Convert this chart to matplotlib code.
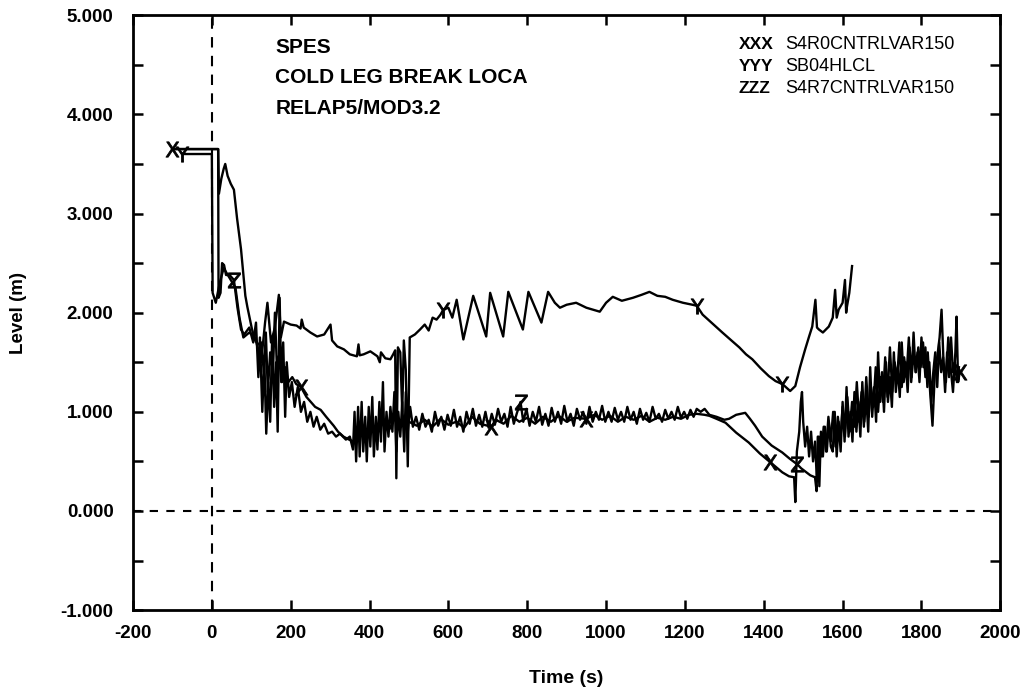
import numpy as np
import matplotlib
matplotlib.use('Agg')
import matplotlib.pyplot as plt
from matplotlib.ticker import MultipleLocator

plt.rcParams['font.family'] = ['Liberation Sans', 'DejaVu Sans']
plt.rcParams['axes.unicode_minus'] = False

# S4R0CNTRLVAR150 (XXX)
x_time = [-100, 16, 18, 24, 30, 34, 40, 48, 56, 64, 74, 85, 90, 102, 110, 118,
          125, 132, 137, 142, 148, 155, 160, 165, 172, 178, 186, 194, 204, 214, 226,
          240, 251, 262, 276, 290, 309, 320, 334, 348, 360, 375, 390, 405, 420, 435,
          450, 465, 480, 500, 520, 540, 560, 580, 600, 620, 640, 660, 680, 700, 709,
          720, 740, 760, 780, 800, 820, 840, 860, 880, 900, 920, 949, 970, 990, 1010,
          1030, 1050, 1070, 1090, 1110, 1130, 1150, 1170, 1190, 1210, 1230, 1250, 1262,
          1280, 1303, 1330, 1362, 1390, 1417, 1447, 1464, 1477, 1480, 1484, 1490, 1494,
          1497, 1500, 1505, 1510, 1515, 1520, 1525, 1530, 1535, 1540, 1546, 1552, 1558,
          1564, 1570, 1576, 1582, 1588, 1594, 1600, 1606, 1612, 1618, 1624, 1630, 1636,
          1642, 1648, 1654, 1660, 1666, 1672, 1678, 1684, 1690, 1696, 1702, 1708, 1714,
          1720, 1726, 1732, 1738, 1744, 1750, 1756, 1762, 1768, 1774, 1780, 1786, 1792,
          1798, 1804, 1810, 1816, 1822, 1828, 1834, 1840, 1846, 1851, 1856, 1862, 1868,
          1874, 1880, 1886, 1889, 1893, 1897]
x_level = [3.65, 3.65, 3.20, 3.35, 3.45, 3.50, 3.38, 3.30, 3.24, 2.95, 2.64, 2.17, 2.06, 1.83, 1.72, 1.68,
           1.70, 1.40, 1.80, 1.20, 1.60, 1.40, 2.00, 1.45, 1.60, 1.30, 1.45, 1.30, 1.35, 1.28, 1.25,
           1.15, 1.10, 1.05, 1.02, 0.95, 0.86, 0.80, 0.75, 0.72, 0.70, 0.78, 0.75, 0.85, 0.78, 0.90,
           0.82, 0.95, 0.85, 0.90, 0.86, 0.92, 0.85, 0.93, 0.87, 0.90, 0.84, 0.95, 0.88, 0.86, 0.85,
           0.92, 0.88, 0.96, 0.90, 0.94, 0.88, 0.95, 0.90, 0.96, 0.90, 0.94, 0.93, 0.97, 0.92, 0.96,
           0.90, 0.95, 0.92, 0.96, 0.90, 0.94, 0.92, 0.95, 0.93, 0.97, 0.98, 0.97, 0.96,
           0.93, 0.89, 0.79, 0.69, 0.58, 0.49, 0.39, 0.35, 0.34, 0.09, 0.60, 0.80, 1.10,
           1.20, 0.90, 0.65, 0.85, 0.55, 0.80, 0.50, 0.70, 0.30, 0.75, 0.55, 0.85, 0.60,
           0.95, 0.70, 1.00, 0.65, 0.95, 0.70, 1.05, 0.75, 1.15, 0.80, 1.10, 0.85, 1.30,
           0.90, 1.20, 0.85, 1.35, 0.95, 1.25, 1.05, 1.45, 1.00, 1.35, 1.10, 1.55, 1.15,
           1.65, 1.20, 1.50, 1.30, 1.70, 1.25, 1.55, 1.35, 1.75, 1.30, 1.60, 1.40, 1.65,
           1.45, 1.70, 1.35, 1.60, 1.20, 0.86, 1.40, 1.55, 1.75, 2.03, 1.50, 1.30, 1.75,
           1.45, 1.20, 1.60, 1.96, 1.30, 1.40]
x_marks = [-100, 226, 709, 949, 1417, 1897]

# SB04HLCL (YYY)
y_time = [-75, 0, 2, 10, 20, 30, 45, 60, 70, 80, 95, 110, 125, 135, 141, 150, 160, 170,
          175, 183, 200, 215, 225, 228, 233, 250, 267, 285, 301, 305, 318, 335, 350, 368,
          372, 375, 385, 402, 420, 426, 429, 440, 453, 460, 465, 468, 472, 478, 483, 487,
          492, 497, 502, 515, 528, 540, 550, 560, 570, 580, 587, 600, 610, 621, 638, 663,
          696, 706, 739, 752, 789, 803, 836, 853, 870, 883, 900, 924, 950, 984, 1000, 1017,
          1040, 1068, 1090, 1110, 1130, 1150, 1169, 1195, 1219, 1230, 1245, 1270, 1295, 1315,
          1338, 1355, 1371, 1392, 1413, 1430, 1447, 1453, 1467, 1480, 1492, 1505, 1515, 1523,
          1531, 1535, 1540, 1550, 1565, 1575, 1581, 1585, 1590, 1600, 1606, 1609, 1611, 1617,
          1624]
y_level = [3.60, 3.60, 2.20, 2.10, 2.30, 2.45, 2.35, 2.25, 1.95, 1.75, 1.80, 1.75, 1.50, 1.90, 2.10, 1.70, 1.85, 2.18,
           1.75, 1.91, 1.88, 1.87, 1.84, 1.93, 1.85, 1.80, 1.76, 1.78, 1.88, 1.72, 1.66, 1.63, 1.58, 1.56,
           1.68, 1.57, 1.58, 1.61, 1.56, 1.50, 1.60, 1.54, 1.53, 1.58, 1.62, 0.33, 1.65, 1.60, 1.00, 1.72,
           1.42, 0.45, 1.75, 1.78, 1.83, 1.88, 1.82, 1.95, 1.93, 1.98, 2.03, 2.05, 1.95, 2.13, 1.73, 2.17,
           1.76, 2.20, 1.76, 2.21, 1.83, 2.21, 1.90, 2.21, 2.10, 2.05, 2.08, 2.10, 2.05, 2.01, 2.10, 2.16,
           2.12, 2.15, 2.18, 2.21, 2.17, 2.16, 2.13, 2.10, 2.08, 2.07, 1.98, 1.89, 1.80, 1.73,
           1.65, 1.58, 1.53, 1.44, 1.36, 1.31, 1.28, 1.26, 1.21, 1.26, 1.45, 1.63, 1.76, 1.86,
           2.13, 1.85, 1.83, 1.80, 1.86, 1.95, 2.23, 1.95, 2.03, 2.10, 2.33, 2.00, 2.06, 2.20,
           2.47]
y_marks = [-75, 587, 1230, 1447]

# S4R7CNTRLVAR150 (ZZZ)
z_time = [-100, 16, 17, 22, 26, 31, 36, 45, 56, 65, 74, 82, 95, 105, 112, 118, 122, 128, 133,
          138, 143, 148, 153, 158, 163, 167, 172, 176, 181, 186, 190, 196, 203, 210, 218, 226,
          234, 242, 250, 258, 266, 275, 285, 295, 305, 315, 325, 340, 350, 358, 362, 366, 371,
          375, 380, 384, 389, 393, 398, 402, 407, 411, 416, 420, 425, 429, 434, 438, 443, 448,
          453, 458, 463, 468, 473, 478, 483, 488, 492, 497, 503, 510, 518, 526, 534, 542, 550,
          558, 566, 574, 582, 590, 598, 606, 614, 622, 630, 638, 646, 654, 662, 670, 678, 686,
          694, 702, 710, 718, 726, 734, 742, 750, 758, 766, 774, 783, 790, 798, 806, 814, 822,
          830, 838, 846, 854, 862, 870, 878, 886, 894, 902, 910, 918, 926, 934, 942, 950, 958,
          966, 974, 982, 990, 998, 1006, 1014, 1022, 1030, 1038, 1046, 1054, 1062, 1070, 1078,
          1086, 1094, 1102, 1110, 1118, 1126, 1134, 1142, 1150, 1158, 1166, 1174, 1182, 1190,
          1198, 1206, 1214, 1222, 1230, 1240, 1250, 1262, 1280, 1300, 1312, 1330, 1353, 1365,
          1378, 1396, 1420, 1447, 1465, 1485, 1495, 1505, 1518, 1530, 1534, 1537, 1541, 1545,
          1550, 1555, 1560, 1565, 1570, 1575, 1580, 1585, 1590, 1595, 1600, 1605, 1610, 1615,
          1620, 1625, 1630, 1635, 1640, 1645, 1650, 1655, 1660, 1665, 1670, 1675, 1680, 1685,
          1690, 1695, 1700, 1705, 1710, 1715, 1720, 1725, 1730, 1735, 1740, 1745, 1750, 1755,
          1760, 1765, 1770, 1775, 1780, 1785, 1790, 1795, 1800, 1805, 1810, 1815, 1820, 1825,
          1830, 1835, 1840, 1845, 1850, 1855, 1860, 1865, 1870, 1875, 1880, 1885, 1890, 1895]
z_level = [3.65, 3.65, 2.15, 2.20, 2.50, 2.48, 2.38, 2.38, 2.33, 2.05, 1.83, 1.78, 1.85, 1.70, 1.90, 1.35, 1.75, 1.00, 1.55,
           0.78, 1.30, 0.90, 1.75, 1.05, 1.50, 0.80, 2.15, 1.30, 1.70, 0.95, 1.50, 1.15, 1.30, 1.05, 1.25, 1.00,
           1.10, 0.90, 1.00, 0.85, 0.95, 0.82, 0.88, 0.78, 0.80, 0.75, 0.78, 0.72, 0.75, 0.62, 1.00, 0.50, 1.05,
           0.55, 1.10, 0.60, 0.95, 0.50, 1.05, 0.65, 1.15, 0.55, 0.95, 0.62, 1.10, 0.70, 1.30, 0.60, 1.00, 0.75,
           1.05, 0.80, 1.20, 0.60, 1.00, 0.75, 1.10, 0.60, 1.20, 0.80, 1.05, 0.85, 0.95, 0.82, 0.98, 0.85, 0.92,
           0.80, 1.00, 0.86, 0.95, 0.82, 0.97, 0.86, 1.02, 0.85, 0.95, 0.80, 1.00, 0.88, 1.03, 0.86, 0.97, 0.85,
           1.00, 0.84, 0.98, 0.87, 1.03, 0.90, 0.98, 0.85, 1.05, 0.88, 0.99, 1.10, 0.90, 1.03, 0.86, 1.00, 0.90,
           1.05, 0.87, 0.98, 0.86, 1.04, 0.90, 1.00, 0.88, 1.06, 0.90, 0.98, 0.86, 1.03, 0.92, 1.00, 0.88, 1.05,
           0.90, 1.00, 0.92, 1.06, 0.90, 1.00, 0.90, 1.04, 0.92, 1.00, 0.90, 1.05, 0.92, 1.00, 0.88,
           1.03, 0.92, 0.99, 0.90, 1.05, 0.93, 0.98, 0.90, 1.02, 0.93, 1.00, 0.92, 1.05, 0.94,
           1.00, 0.93, 1.02, 0.95, 1.03, 1.00, 1.03, 0.97, 0.95, 0.92, 0.93, 0.97, 0.99, 0.93,
           0.86, 0.75, 0.66, 0.59, 0.53, 0.47, 0.43, 0.40, 0.36, 0.34, 0.20, 0.75, 0.25, 0.80,
           0.55, 0.85, 0.60, 0.90, 0.65, 0.60, 1.00, 0.55, 0.90, 0.60, 1.10, 0.70, 1.25, 0.75,
           1.00, 0.70, 1.20, 0.80, 1.10, 0.75, 1.30, 0.90, 1.15, 0.80, 1.45, 0.95, 1.25, 0.90,
           1.60, 1.10, 1.40, 1.00, 1.50, 1.10, 1.35, 1.05, 1.60, 1.20, 1.45, 1.15, 1.70, 1.30,
           1.50, 1.20, 1.65, 1.35, 1.80, 1.40, 1.60, 1.30, 1.75, 1.45, 1.65, 1.25, 1.50, 1.10,
           1.40, 1.60, 1.25, 1.70, 1.40, 1.55, 1.20, 1.60, 1.35, 1.75, 1.40, 1.50, 1.30, 1.45]
z_marks = [56, 783, 1485]

fig = plt.figure(figsize=(10.27, 6.91), dpi=100)
ax = fig.add_axes([0.1295, 0.117, 0.8445, 0.861])

series = [
    (x_time, x_level, x_marks, r'$\mathrm{X}$'),
    (y_time, y_level, y_marks, r'$\mathrm{Y}$'),
    (z_time, z_level, z_marks, r'$\mathrm{Z}$'),
]
for t, lev, marks, sym in series:
    idx = [t.index(m) for m in marks]
    ax.plot(t, lev, color='black', lw=1.7, marker=sym, markevery=idx,
            markersize=11, markeredgewidth=0.6)

ax.axvline(0, color='black', lw=1.5, ls=(0, (5, 4)))
ax.axhline(0, color='black', lw=1.5, ls=(0, (4, 4)))

ax.set_xlim(-200, 2000)
ax.set_ylim(-1, 5)
ax.xaxis.set_major_locator(MultipleLocator(200))
ax.yaxis.set_major_locator(MultipleLocator(1))
ax.yaxis.set_minor_locator(MultipleLocator(0.5))
ax.set_yticklabels([f'{v:.3f}' for v in ax.get_yticks()])
ax.tick_params(which='both', direction='in', top=True, right=True,
               length=7, width=1.8, labelsize=13.5)
ax.tick_params(axis='x', pad=11)
ax.tick_params(axis='y', pad=14)
for lab in ax.get_xticklabels() + ax.get_yticklabels():
    lab.set_fontweight('bold')
for sp in ax.spines.values():
    sp.set_linewidth(2)

ax.set_xlabel('Time (s)', fontsize=14, fontweight='bold', labelpad=20)
ax.set_ylabel('Level (m)', fontsize=13.5, fontweight='bold', labelpad=24)

for i, line in enumerate(['SPES', 'COLD LEG BREAK LOCA', 'RELAP5/MOD3.2']):
    ax.text(0.164, 0.946 - i * 0.051, line, transform=ax.transAxes,
            fontsize=15, fontweight='bold', va='center', ha='left')

legend_rows = [('XXX', 'S4R0CNTRLVAR150'), ('YYY', 'SB04HLCL'), ('ZZZ', 'S4R7CNTRLVAR150')]
for i, (code, name) in enumerate(legend_rows):
    yy = 0.950 - i * 0.037
    ax.text(0.698, yy, code, transform=ax.transAxes, fontsize=12.5,
            fontweight='bold', va='center', ha='left')
    ax.text(0.752, yy, name, transform=ax.transAxes, fontsize=13,
            va='center', ha='left')

fig.savefig('out.png', dpi=100)
